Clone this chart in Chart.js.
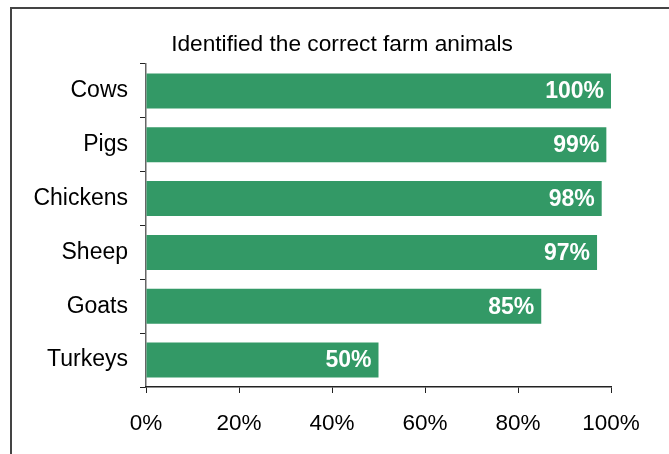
<!DOCTYPE html>
<html>
<head>
<meta charset="utf-8">
<script src="https://cdn.jsdelivr.net/npm/chart.js@4/dist/chart.umd.min.js"></script>
<style>
  html, body { margin: 0; padding: 0; background: #fff; }
  canvas { display: block; }
</style>
</head>
<body>
<canvas id="farmChart" width="669" height="454"></canvas>
<script>
const animals = ['Cows', 'Pigs', 'Chickens', 'Sheep', 'Goats', 'Turkeys'];
const correctPct = [100, 99, 98, 97, 85, 50];
const xTicks = [0, 20, 40, 60, 80, 100];

const chartTitle = 'Identified the correct farm animals';
const barColor = '#339966';
const fontFamily = '"Liberation Sans", Arial, Helvetica, sans-serif';

// outer frame + title
const framePlugin = {
  id: 'frame',
  afterDraw(chart) {
    const ctx = chart.ctx;
    ctx.save();
    ctx.strokeStyle = '#444';
    ctx.lineWidth = 2;
    ctx.beginPath();
    ctx.moveTo(11, chart.height + 2);
    ctx.lineTo(11, 8);
    ctx.lineTo(chart.width + 2, 8);
    ctx.stroke();

    ctx.fillStyle = '#000';
    ctx.font = '22.7px ' + fontFamily;
    ctx.textAlign = 'center';
    ctx.textBaseline = 'alphabetic';
    ctx.fillText(chartTitle, 342, 51);
    ctx.restore();
  }
};

// white percentage labels at the end of each bar
const valueLabels = {
  id: 'valueLabels',
  afterDatasetsDraw(chart) {
    const ctx = chart.ctx;
    const meta = chart.getDatasetMeta(0);
    ctx.save();
    ctx.fillStyle = '#fff';
    ctx.font = 'bold 23px ' + fontFamily;
    ctx.textAlign = 'right';
    ctx.textBaseline = 'middle';
    meta.data.forEach(function (bar, i) {
      ctx.fillText(correctPct[i] + '%', bar.x - 7, bar.y + 1);
    });
    ctx.restore();
  }
};

const ctx = document.getElementById('farmChart').getContext('2d');
new Chart(ctx, {
  type: 'bar',
  data: {
    labels: animals,
    datasets: [{
      data: correctPct,
      backgroundColor: barColor,
      borderWidth: 0,
      categoryPercentage: 1,
      barPercentage: 0.65
    }]
  },
  options: {
    indexAxis: 'y',
    responsive: false,
    animation: false,
    layout: { padding: { top: 64, right: 58, left: 0, bottom: 0 } },
    plugins: {
      legend: { display: false },
      title: { display: false },
      tooltip: { enabled: false }
    },
    scales: {
      y: {
        afterFit(scale) { scale.width = 146; },
        grid: {
          drawOnChartArea: false,
          drawTicks: true,
          tickLength: 6,
          color: '#222',
          offset: true
        },
        border: { display: true, color: '#666', width: 1.5 },
        ticks: {
          color: '#000',
          padding: 12,
          font: { family: fontFamily, size: 23 }
        }
      },
      x: {
        min: 0,
        max: 100,
        afterFit(scale) { scale.height = 67; },
        afterBuildTicks(scale) {
          scale.ticks = xTicks.map(v => ({ value: v }));
        },
        grid: {
          drawOnChartArea: false,
          drawTicks: true,
          tickLength: 6,
          color: '#222'
        },
        border: { display: true, color: '#222', width: 1.5 },
        ticks: {
          color: '#000',
          padding: 17,
          maxRotation: 0,
          font: { family: fontFamily, size: 22.5 },
          callback: v => v + '%'
        }
      }
    }
  },
  plugins: [framePlugin, valueLabels]
});
</script>
</body>
</html>
